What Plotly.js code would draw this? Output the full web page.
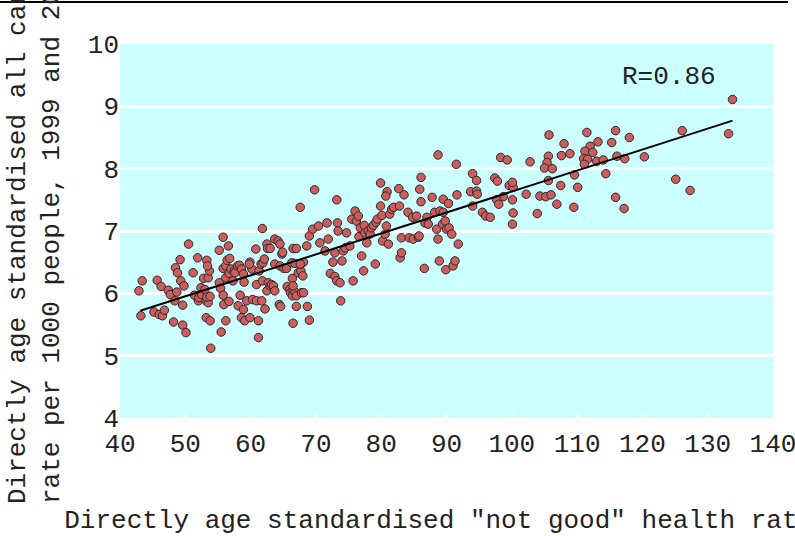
<!DOCTYPE html>
<html>
<head>
<meta charset="utf-8">
<script src="https://cdn.plot.ly/plotly-3.0.1.min.js"></script>
<style>html,body{margin:0;padding:0;background:#fff;}#chart{width:795px;height:536px;}</style>
</head>
<body>
<div id="chart"></div>
<script>
// "Not good" health rate (x) vs all cause mortality rate (y)
const healthRate = [
42.9,43.4,43.2,45.2,45.7,46.3,46.0,46.5,46.8,47.4,47.7,48.7,48.2,48.4,48.5,48.8,49.2,49.3,49.8,49.6,50.1,49.6,50.5,51.2,51.4,52.0,52.1,51.9,52.4,52.5,
53.0,53.2,52.8,53.5,53.7,53.3,53.4,53.2,53.5,53.3,53.8,53.8,53.9,55.2,55.4,55.8,55.9,55.2,55.8,55.5,56.2,55.8,56.2,56.4,56.6,56.8,56.2,56.7,57.0,56.7,
57.3,57.5,57.6,58.0,58.3,58.6,58.9,58.1,58.6,58.9,58.4,59.0,59.1,59.9,59.4,59.9,60.2,59.8,60.3,60.9,61.7,60.8,61.2,61.2,60.9,61.3,61.6,61.9,61.8,61.8,
62.1,62.5,62.6,62.2,62.5,62.7,63.0,63.2,63.5,63.7,63.0,63.7,64.2,64.5,64.8,64.9,64.4,64.6,63.7,64.5,65.1,65.5,65.6,66.0,66.1,66.5,66.4,66.8,67.0,67.8,
66.4,66.5,66.5,66.3,66.8,66.5,67.0,67.0,67.3,67.7,68.0,67.7,68.1,68.7,69.0,72.2,72.9,73.8,67.6,68.1,
67.6,69.8,73.2,68.6,69.0,69.5,70.4,70.6,71.4,71.7,71.9,72.6,72.9,73.2,73.3,73.4,73.7,74.0,74.2,74.5,74.7,75.2,75.5,75.7,76.0,76.2,76.5,76.6,76.8,77.0,
77.3,77.4,77.5,77.8,78.0,78.3,78.5,78.8,79.1,79.2,79.4,79.9,80.1,80.2,80.6,80.8,81.1,81.3,81.6,81.9,82.8,82.9,83.1,83.1,84.1,84.3,84.8,84.9,85.4,85.7,
85.8,86.6,86.7,87.0,87.2,88.2,88.5,88.7,89.0,88.9,89.4,89.5,89.8,90.0,90.4,89.9,90.8,91.0,91.3,91.8,79.9,80.9,80.7,82.7,83.5,86.1,85.9,86.1,87.8,88.7,
89.5,90.3,91.5,91.6,94.0,94.6,93.7,94.6,94.7,94.0,97.4,97.8,98.3,99.3,98.7,97.7,98.0,95.5,96.0,96.7,99.6,100.2,100.1,100.1,100.2,100.1,102.8,102.2,103.9,104.3,
105.2,105.7,105.6,105.4,105.0,105.6,133.8,133.2,126.1,125.1,127.3,120.3,118.0,115.9,115.3,116.1,117.3,114.4,115.9,117.2,113.2,111.5,112.0,111.2,112.4,111.0,
111.6,111.1,113.0,114.0,109.6,110.1,109.5,108.9,107.6,108.0,106.2,107.5,106.0,106.9
];
const mortalityRate = [
6.04,6.20,5.64,5.70,6.21,6.11,5.66,5.64,5.73,6.05,5.98,6.02,5.54,5.88,6.41,6.33,6.54,6.20,6.12,5.49,5.37,5.81,6.79,6.33,5.97,5.88,5.93,6.57,6.09,5.98,
6.06,5.88,6.24,6.25,6.36,6.53,6.44,5.61,5.85,5.94,5.95,5.56,5.12,6.17,6.08,5.97,5.82,6.69,6.90,5.38,5.56,6.40,6.44,6.53,6.76,6.56,6.25,6.32,6.39,5.87,
6.20,6.36,6.33,6.44,6.45,6.39,6.31,5.80,5.61,5.74,5.97,6.18,5.56,5.61,5.88,6.50,6.39,6.47,5.90,5.88,5.88,6.71,5.29,5.56,6.14,6.36,6.47,6.49,7.04,6.20,
6.55,6.79,6.72,5.75,6.04,6.17,6.12,6.14,6.12,6.04,6.72,6.87,6.84,6.79,6.63,6.66,5.82,5.79,6.47,6.44,6.40,6.40,6.11,6.06,6.01,6.04,5.96,6.02,5.96,6.01,
6.24,6.12,5.52,6.49,6.48,6.72,6.72,5.79,6.33,6.36,6.28,6.47,6.50,5.79,5.57,6.32,6.27,5.88,6.47,6.01,
7.38,7.66,7.50,6.76,6.92,7.03,7.08,6.81,6.68,7.13,6.87,6.50,6.65,6.20,7.13,7.00,6.17,6.52,6.68,6.73,6.97,6.76,7.19,6.20,7.32,7.16,7.24,6.91,7.05,6.60,
6.36,7.09,6.97,6.81,7.00,6.95,7.05,7.09,6.47,7.14,7.19,7.40,7.25,6.84,6.95,7.08,6.79,7.27,7.35,7.38,7.40,6.57,6.89,6.65,7.30,6.89,7.22,6.87,7.24,6.90,
6.92,6.40,7.13,7.22,7.11,7.30,7.03,6.87,7.32,6.52,7.11,7.30,7.16,7.03,7.05,6.38,6.95,6.44,6.52,6.79,7.77,7.63,7.56,7.68,7.58,7.86,7.67,7.47,7.54,8.22,
7.51,7.44,8.07,7.58,7.92,7.81,7.63,7.64,7.59,7.40,7.85,7.80,8.18,8.14,7.55,7.50,7.43,7.30,7.24,7.22,7.73,7.70,7.78,7.50,7.29,7.11,8.11,7.59,7.28,7.56,
7.55,8.54,8.20,8.10,8.01,7.81,9.11,8.56,8.61,7.83,7.65,8.19,8.50,8.61,8.42,8.20,8.16,7.92,7.54,7.36,8.43,8.58,8.36,8.28,8.26,8.16,
8.15,8.07,8.12,8.14,7.90,7.70,7.38,8.24,8.21,8.40,8.00,7.73,7.58,7.43
];
// fitted regression line end points
const fitX = [43.1, 133.8];
const fitY = [5.72, 8.77];
const xTicks = [40,50,60,70,80,90,100,110,120,130,140];
const yTicks = [4,5,6,7,8,9,10];
const rLabel = "R=0.86";
const xTitle = 'Directly age standardised "not good" health rates';
const yTitle = 'Directly age standardised all cause<br>rate per 1000 people, 1999 and 2003';

const mono = '"Liberation Mono", "Courier New", monospace';
const W = 795, H = 536, L = 120, R = 22, T = 44, B = 118;
const pw = W - L - R, ph = H - T - B;

const traces = [
  {x: healthRate, y: mortalityRate, type: 'scatter', mode: 'markers',
   marker: {size: 8.5, color: '#cd5c5c', line: {color: '#2a2a2a', width: 1}}, hoverinfo: 'x+y'},
  {x: fitX, y: fitY, type: 'scatter', mode: 'lines', line: {color: '#000', width: 2}, hoverinfo: 'skip'}
];
const layout = {
  width: W, height: H, showlegend: false,
  margin: {l: L, r: R, t: T, b: B, pad: 0},
  paper_bgcolor: '#ffffff', plot_bgcolor: '#ccffff',
  font: {family: mono, size: 26, color: '#222'},
  xaxis: {range: [40, 140], tickvals: xTicks, ticktext: xTicks.map(String), showgrid: false, zeroline: false, showline: false,
          ticks: 'inside', ticklen: 5, tickwidth: 2, tickcolor: '#ffffff', ticklabelstandoff: 7, ticklabeloverflow: 'allow',
          tickfont: {family: mono, size: 26, color: '#222'},
          title: {text: xTitle, font: {family: mono, size: 26, color: '#222'}, standoff: 58}, automargin: false, fixedrange: true},
  yaxis: {range: [4, 10], tickvals: yTicks, ticktext: yTicks.map(String), showgrid: true, gridcolor: '#ffffff', gridwidth: 3,
          zeroline: false, showline: false, ticks: '', tickfont: {family: mono, size: 26, color: '#222'},
          title: {text: yTitle, font: {family: mono, size: 26, color: '#222'}, standoff: 20}, automargin: false, fixedrange: true},
  annotations: [{x: 124.1, y: 9.47, xref: 'x', yref: 'y', text: rLabel, showarrow: false,
                 font: {family: mono, size: 26, color: '#222'}, xanchor: 'center', yanchor: 'middle'}],
  shapes: [{type: 'line', xref: 'paper', yref: 'paper', x0: -L / pw, x1: (788 - L) / pw,
            y0: (H - B - 2) / ph, y1: (H - B - 2) / ph, line: {color: '#000', width: 2}}]
};
Plotly.newPlot('chart', traces, layout, {displayModeBar: false, staticPlot: true});
</script>
</body>
</html>
